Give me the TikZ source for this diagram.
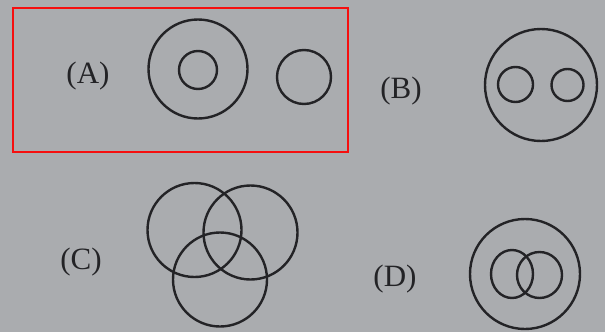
\documentclass[tikz,border=0pt]{standalone}
\usepackage{fontspec}
\setmainfont{Liberation Serif}
\definecolor{bg}{RGB}{170,172,175}
\definecolor{ink}{RGB}{35,35,38}
\definecolor{redbox}{RGB}{245,15,15}
\begin{document}
\begin{tikzpicture}[x=1pt,y=-1pt,
  ring/.style={draw=ink,line width=2.4pt},
  lbl/.style={text=ink,font=\fontsize{31}{34}\selectfont,inner sep=0pt}]
\fill[bg] (0,0) rectangle (605,332);
\useasboundingbox (0,0) rectangle (605,332);
% frame around A
\draw[redbox,line width=2.6pt] (13,8) rectangle (348,152);
% labels
\node[lbl] (la) at (88,76) {(A)};
\node[lbl] (lb) at (401,91) {(B)};
\node[lbl] (lc) at (81,262) {(C)};
\node[lbl] (ld) at (395,279) {(D)};
% A
\draw[ring] (198,69) circle (49.5);
\draw[ring] (198,70) circle (19);
\draw[ring] (304,77) circle (27);
% B
\draw[ring] (541,85) circle (56);
\draw[ring] (515.5,84.5) circle (17.5);
\draw[ring] (567.5,85) circle (16);
% C
\draw[ring] (194.5,230) circle (47);
\draw[ring] (250.5,232.5) circle (47);
\draw[ring] (220,279.5) circle (47);
% D
\draw[ring] (525,274) circle (55);
\draw[ring] (512,274) ellipse (21 and 24);
\draw[ring] (539.5,275) ellipse (22.5 and 23);
\end{tikzpicture}
\end{document}
